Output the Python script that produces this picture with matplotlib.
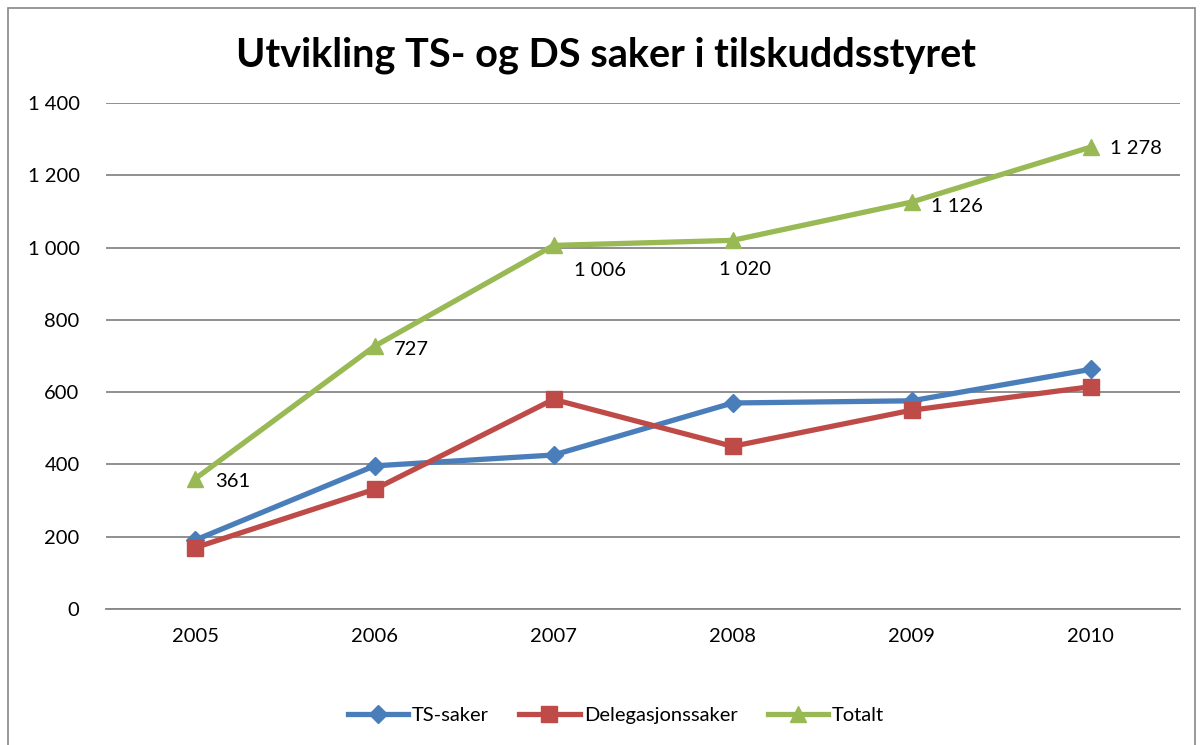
import matplotlib.pyplot as plt
from matplotlib.patches import Rectangle
from matplotlib.ticker import FuncFormatter

plt.rcParams['font.family'] = ['Lato', 'DejaVu Sans']

years = ["2005", "2006", "2007", "2008", "2009", "2010"]
ts_saker = [191, 396, 426, 570, 576, 663]
delegasjon = [170, 331, 580, 450, 550, 615]
totalt = [361, 727, 1006, 1020, 1126, 1278]

# label offsets (points) for the Totalt data labels
label_offsets = [(14, -2), (14, -2), (15, -18), (-10, -21), (14, -3), (14, -1)]

fig = plt.figure(figsize=(12.03, 7.45), dpi=100)
ax = fig.add_axes([0.0881, 0.1826, 0.8929, 0.6791])

x = list(range(len(years)))
ax.plot(x, ts_saker, color="#4A7EBB", lw=3.8, marker="D", ms=9, label="TS-saker")
ax.plot(x, delegasjon, color="#BE4B48", lw=3.8, marker="s", ms=11, label="Delegasjonssaker")
ax.plot(x, totalt, color="#98B954", lw=3.8, marker="^", ms=12, label="Totalt")

for xi, v, off in zip(x, totalt, label_offsets):
    ax.annotate(f"{v:,}".replace(",", " "), (xi, v), xytext=off,
                textcoords="offset points", ha="left", va="center",
                fontsize=14.5, color="black")

ax.set_xlim(-0.5, 5.5)
ax.set_ylim(0, 1400)
ax.set_yticks(range(0, 1401, 200))
ax.yaxis.set_major_formatter(FuncFormatter(lambda v, p: f"{v:,.0f}".replace(",", " ")))
ax.set_xticks(x)
ax.set_xticklabels(years)
ax.tick_params(axis="both", length=0, labelsize=14.5, colors="black")
ax.tick_params(axis="x", pad=14)
ax.tick_params(axis="y", pad=19)
ax.grid(axis="y", color="#878787", lw=1.3)
ax.set_axisbelow(True)
for s in ["top", "right", "left"]:
    ax.spines[s].set_visible(False)
ax.spines["bottom"].set_color("#878787")
ax.spines["bottom"].set_linewidth(1.3)

fig.text(0.504, 0.926, "Utvikling TS- og DS saker i tilskuddsstyret",
         ha="center", va="center", fontsize=28.5, fontweight="bold")

ax.legend(loc="center", bbox_to_anchor=(0.512, 0.039), bbox_transform=fig.transFigure,
          ncol=3, frameon=False, fontsize=14.5, handlelength=3, handletextpad=0.2,
          columnspacing=1.5)

fig.patches.append(Rectangle((8 / 1203, -0.05), 1187 / 1203, 1.05 - 8 / 745,
                             transform=fig.transFigure, fill=False,
                             edgecolor="#878787", lw=1.2))

fig.savefig("out.png", dpi=100, facecolor="white")
